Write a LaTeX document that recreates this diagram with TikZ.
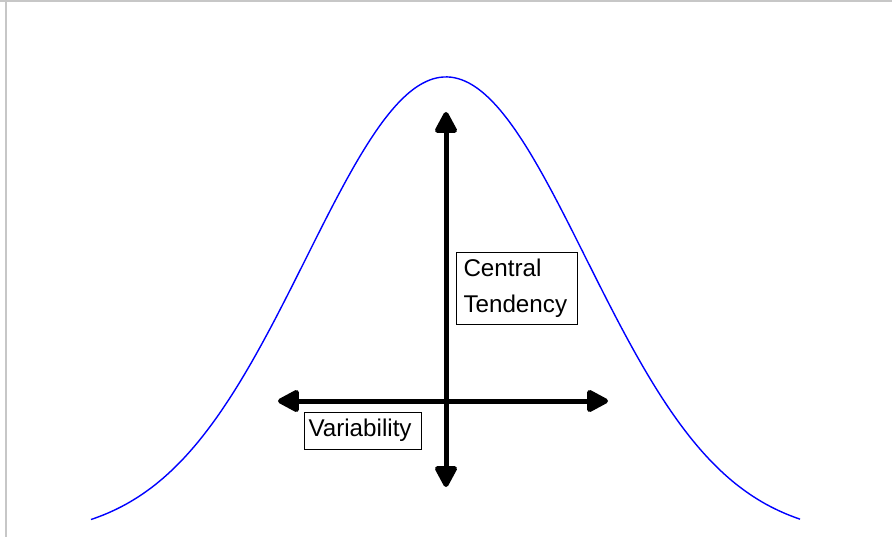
\documentclass[tikz,border=0pt]{standalone}
\usepackage{fontspec}
\setmainfont{Liberation Sans}
\usetikzlibrary{arrows.meta}
\begin{document}
\begin{tikzpicture}[x=1pt,y=-1pt,
  tipstyle/.tip={Triangle[length=24pt,width=24pt,round]},
  bigarrow/.style={line width=5pt, tipstyle-tipstyle},
  curve/.style={blue, line width=1.4pt},
  labelbox/.style={draw=black, line width=0.9pt, inner sep=0pt,
    font=\fontsize{24.2}{36}\selectfont, align=left},
  frame/.style={draw=black!22, line width=2pt}]
\useasboundingbox (0,0) rectangle (892,537);
% frame
\coordinate (fa) at (0,1);
\coordinate (fb) at (892,1);
\coordinate (fc) at (6,0);
\coordinate (fd) at (6,537);
\draw[frame] (fa) -- (fb);
\draw[frame] (fc) -- (fd);
% normal curve
\draw[curve] plot[domain=-2.536:2.529, samples=200, smooth]
  ({446+140*\x},{538-461*exp(-\x*\x/2)});
% axes
\coordinate (top) at (446,112);
\coordinate (bottom) at (446,487);
\coordinate (left) at (278,401);
\coordinate (right) at (608,401);
\draw[bigarrow] (bottom) -- (top);
\draw[bigarrow] (left) -- (right);
% labels
\node[labelbox, minimum width=121pt, minimum height=72pt, text width=106pt]
  (central) at (516.5,288) {Central\\Tendency};
\node[labelbox, minimum width=117pt, minimum height=37pt, text width=108pt]
  (variab) at (362.5,430.5) {Variability};
\end{tikzpicture}
\end{document}
